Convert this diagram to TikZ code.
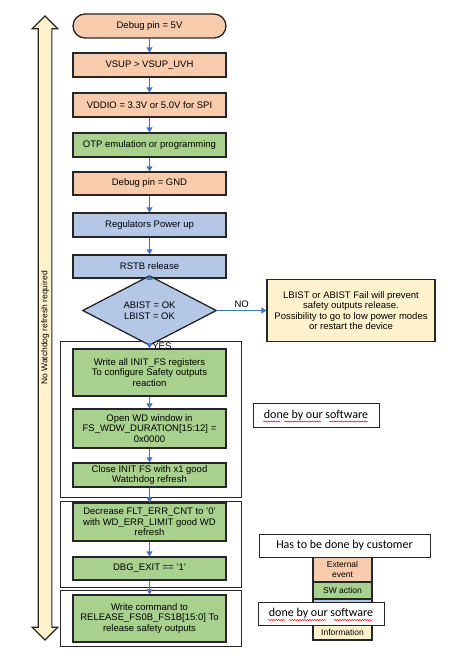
\documentclass[tikz,border=0pt]{standalone}
\usepackage{fontspec}
\setmainfont{Liberation Sans}
\newfontfamily\calibri{Carlito}
\usetikzlibrary{shapes.geometric,shapes.arrows,arrows.meta,positioning,calc,decorations.pathmorphing}

\definecolor{extfill}{HTML}{F8CBAD}
\definecolor{swfill}{HTML}{A9D18E}
\definecolor{hwfill}{HTML}{B4C7E7}
\definecolor{infofill}{HTML}{FFF2CC}
\definecolor{flowblue}{HTML}{4472C4}

\begin{document}
\begin{tikzpicture}[
  x=1pt, y=-1pt,
  >=Triangle,
  box/.style={
    rectangle, draw=black!85, line width=1.3pt, align=center,
    font=\fontsize{9.5}{10.5}\selectfont, minimum width=153pt, inner sep=1pt
  },
  ext/.style={box, fill=extfill},
  sw/.style={box, fill=swfill},
  hw/.style={box, fill=hwfill},
  dec/.style={
    diamond, draw=black!85, line width=1.3pt, fill=hwfill, align=center,
    font=\fontsize{9.5}{11}\selectfont, inner sep=0pt,
    minimum width=134pt, minimum height=39pt
  },
  grp/.style={rectangle, draw=black!85, line width=0.9pt, minimum width=181pt},
  note/.style={
    rectangle, draw=black!85, line width=0.9pt, fill=white,
    font=\calibri\fontsize{12}{14}\selectfont, inner sep=0pt
  },
  cell/.style={
    rectangle, draw=black!85, line width=1.3pt, minimum width=59pt,
    font=\fontsize{8.5}{9.5}\selectfont, align=center, inner sep=0pt
  },
  flow/.style={draw=flowblue, line width=1.8pt,
    arrows={-Triangle[length=5pt, width=6pt]}},
  squig/.style={draw=red, line width=0.5pt,
    decorate, decoration={snake, amplitude=0.6pt, segment length=2.5pt}}
]
\useasboundingbox (0,0) rectangle (474,660);

% Watchdog arrow
\node[double arrow, rotate=90, draw=black!85, line width=1.2pt, fill=infofill,
      minimum height=624pt, minimum width=24pt,
      double arrow head extend=6pt, inner xsep=0pt, inner ysep=2pt,
      text height=6.5pt, text depth=2pt, font=\fontsize{8.5}{10}\selectfont]
     (wdg) at (45,328) {No Watchdog refresh required};

% Groups
\node[grp, minimum height=156pt] (grp1) at (150.5,419) {};
\node[grp, minimum height=86pt]  (grp2) at (150.5,544) {};
\node[grp, minimum height=56pt]  (grp3) at (150.5,618) {};

% Flow steps
\node[ext, rounded corners=12pt, minimum height=24pt] (dbg5)  at (149.5,26)  {Debug pin = 5V};
\node[ext, minimum height=24pt] (vsup)  at (149.5,65)  {VSUP > VSUP\_UVH};
\node[ext, minimum height=24pt] (vddio) at (149.5,105) {VDDIO = 3.3V or 5.0V for SPI};
\node[sw,  minimum height=24pt] (otp)   at (149.5,145) {OTP emulation or programming};
\node[ext, minimum height=23pt] (dbgnd) at (149.5,183.5) {Debug pin = GND};
\node[hw,  minimum height=24pt] (regs)  at (149.5,225) {Regulators Power up};
\node[hw,  minimum height=23pt] (rstb)  at (149.5,266.5) {RSTB release};
\node[dec] (bist) at (149.5,310.5) {ABIST = OK\\LBIST = OK};

\node[box, fill=infofill, minimum width=168pt, minimum height=62pt]
     (fail) at (351,310.5) {LBIST or ABIST Fail will prevent\\safety outputs release.\\Possibility to go to low power modes\\or restart the device};

\node[sw, minimum height=47pt] (initfs) at (149.5,372.5) {Write all INIT\_FS registers\\To configure Safety outputs\\reaction};
\node[sw, minimum height=39pt] (wdwin)  at (149.5,428.5) {Open WD window in\\FS\_WDW\_DURATION[15:12] =\\0x0000};
\node[sw, minimum height=24pt] (close)  at (149.5,475)   {Close INIT FS with x1 good\\Watchdog refresh};
\node[sw, minimum height=38pt] (flt)    at (149.5,522)   {Decrease FLT\_ERR\_CNT to '0'\\with WD\_ERR\_LIMIT good WD\\refresh};
\node[sw, minimum height=23pt] (dbgex)  at (149.5,568.5) {DBG\_EXIT == '1'};
\node[sw, minimum height=47pt] (rel)    at (149.5,618.5) {Write command to\\RELEASE\_FS0B\_FS1B[15:0] To\\release safety outputs};

% Connectors
\draw[flow] (dbg5) -- (vsup);
\draw[flow] (vsup) -- (vddio);
\draw[flow] (vddio) -- (otp);
\draw[flow] (otp) -- (dbgnd);
\draw[flow] (dbgnd) -- (regs);
\draw[flow] (regs) -- (rstb);
\draw[flow] (rstb) -- (bist);
\draw[flow] (bist.east) -- node[above, font=\fontsize{9.5}{10}\selectfont, inner sep=2pt]{NO} (bist.east -| fail.west);
\draw[flow] (bist.south) -- node[pos=0.28, right, font=\fontsize{9.5}{10}\selectfont, inner sep=2pt]{YES} (initfs);
\draw[flow] (initfs) -- (wdwin);
\draw[flow] (wdwin) -- (close);
\draw[flow] (close) -- (flt);
\draw[flow] (flt) -- (dbgex);
\draw[flow] (dbgex) -- (rel);

% Legend
\node[cell, fill=extfill, minimum height=25pt] (lgext)  at (342.5,569.5) {External\\event};
\node[cell, fill=swfill,  minimum height=17pt] (lgsw)   at (342.5,590.5) {SW action};
\node[cell, fill=hwfill,  minimum height=26pt] (lghw)   at (342.5,612)   {};
\node[cell, fill=infofill, minimum height=15pt] (lginfo) at (342.5,632.5) {Information};

% Notes
\node[note, minimum width=126pt, minimum height=24pt] (ours1) at (316,415)   {done by our software};
\node[note, minimum width=171pt, minimum height=23pt] (cust)  at (344.5,545.5) {Has to be done by customer};
\node[note, minimum width=126pt, minimum height=23pt] (ours2) at (321,613.5) {done by our software};

% spell-check marks
\foreach \n in {ours1,ours2}{
  \draw[squig] ($(\n.center)+(-53,6.5)$) -- ($(\n.center)+(-36,6.5)$);
  \draw[squig] ($(\n.center)+(-32,6.5)$) -- ($(\n.center)+(5,6.5)$);
  \draw[squig] ($(\n.center)+(13,6.5)$) -- ($(\n.center)+(52,6.5)$);
}

\end{tikzpicture}
\end{document}
